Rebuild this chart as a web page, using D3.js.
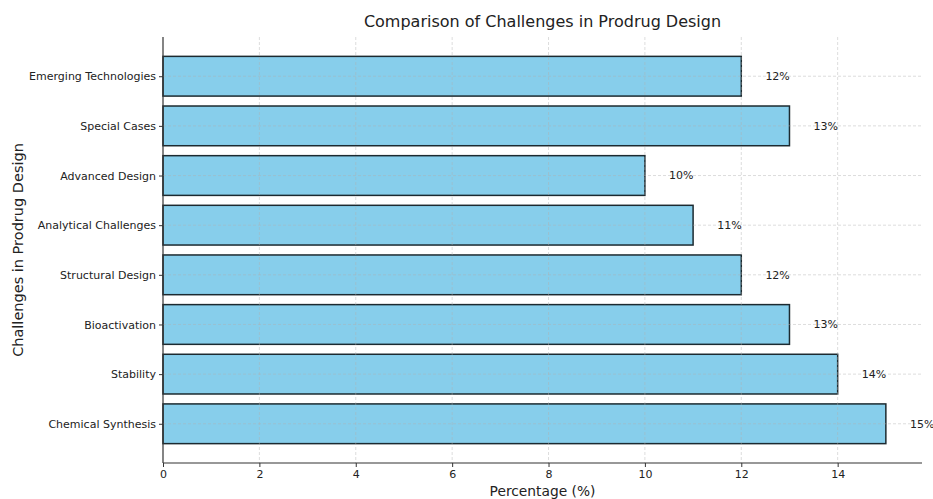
<!DOCTYPE html>
<html>
<head>
<meta charset="utf-8">
<script src="https://cdn.jsdelivr.net/npm/d3@7"></script>
<style>
  body { margin: 0; background: #fff; }
  svg text { font-family: "DejaVu Sans", sans-serif; fill: #222; }
</style>
</head>
<body>
<svg id="chart" width="933" height="499"></svg>
<script>
// Challenges in prodrug design and their share (%)
const categories = [
  "Chemical Synthesis", "Stability", "Bioactivation", "Structural Design",
  "Analytical Challenges", "Advanced Design", "Special Cases", "Emerging Technologies"
];
const percentages = [15, 14, 13, 12, 11, 10, 13, 12];
const xTicks = [0, 2, 4, 6, 8, 10, 12, 14];

const svg = d3.select("#chart");
const margin = { left: 163, right: 11, top: 37, bottom: 36 };
const W = 933, H = 499;
const plotW = W - margin.left - margin.right;
const plotH = H - margin.top - margin.bottom;

const maxV = d3.max(percentages);
const x = d3.scaleLinear().domain([0, maxV * 1.05]).range([0, plotW]);

// category positions: index i at value i, bars 0.8 tall, 5% padding
const n = categories.length;
const lo = -0.4 - 0.05 * (n - 1 + 0.8), hi = (n - 1) + 0.4 + 0.05 * (n - 1 + 0.8);
const yIdx = d3.scaleLinear().domain([lo, hi]).range([plotH, 0]);
const barH = yIdx(0) - yIdx(0.8);

const g = svg.append("g").attr("transform", `translate(${margin.left},${margin.top})`);

// bars
g.selectAll("rect.bar").data(percentages).join("rect")
  .attr("class", "bar")
  .attr("x", x(0))
  .attr("y", (d, i) => yIdx(i + 0.4))
  .attr("width", d => x(d) - x(0))
  .attr("height", barH)
  .attr("fill", "#87ceeb")
  .attr("stroke", "#1c2a30")
  .attr("stroke-width", 1.5);

// dashed grid over the bars
const grid = g.append("g").attr("stroke", "#b0b0b0").attr("stroke-opacity", 0.55)
  .attr("stroke-dasharray", "3,2").attr("stroke-width", 0.8);
grid.selectAll("line.vx").data(xTicks.filter(t => t > 0)).join("line")
  .attr("x1", d => x(d)).attr("x2", d => x(d)).attr("y1", 0).attr("y2", plotH);
grid.selectAll("line.hy").data(categories).join("line")
  .attr("x1", 0).attr("x2", plotW)
  .attr("y1", (d, i) => yIdx(i)).attr("y2", (d, i) => yIdx(i));

// value labels
g.selectAll("text.val").data(percentages).join("text")
  .attr("class", "val")
  .attr("x", d => x(d + 0.5))
  .attr("y", (d, i) => yIdx(i))
  .attr("dy", "0.35em")
  .attr("font-size", 11)
  .text(d => d + "%");

// axes
const xAxis = d3.axisBottom(x).tickValues(xTicks).tickSize(4).tickPadding(3);
const gx = g.append("g").attr("transform", `translate(0,${plotH})`).call(xAxis);
gx.selectAll("text").attr("font-size", 11).style("font-family", "DejaVu Sans, sans-serif").attr("fill", "#222");

const yAxis = d3.axisLeft(yIdx).tickValues(d3.range(n)).tickFormat(i => categories[i]).tickSize(4).tickPadding(3);
const gy = g.append("g").call(yAxis);
gy.selectAll("text").attr("font-size", 11).style("font-family", "DejaVu Sans, sans-serif").attr("fill", "#222");

[gx, gy].forEach(a => {
  a.select(".domain").attr("stroke", "#333").attr("stroke-width", 1.2);
  a.selectAll(".tick line").attr("stroke", "#333");
});
gy.select(".domain").attr("d", `M0,0V${plotH}`);
gx.select(".domain").attr("d", `M0,0H${plotW}`);

// titles
svg.append("text").attr("x", margin.left + plotW / 2).attr("y", 27)
  .attr("text-anchor", "middle").attr("font-size", 16).text("Comparison of Challenges in Prodrug Design");
svg.append("text").attr("x", margin.left + plotW / 2).attr("y", 496)
  .attr("text-anchor", "middle").attr("font-size", 13.8).text("Percentage (%)");
svg.append("text").attr("transform", `translate(23,${margin.top + plotH / 2}) rotate(-90)`)
  .attr("text-anchor", "middle").attr("font-size", 14.5).text("Challenges in Prodrug Design");
</script>
</body>
</html>
